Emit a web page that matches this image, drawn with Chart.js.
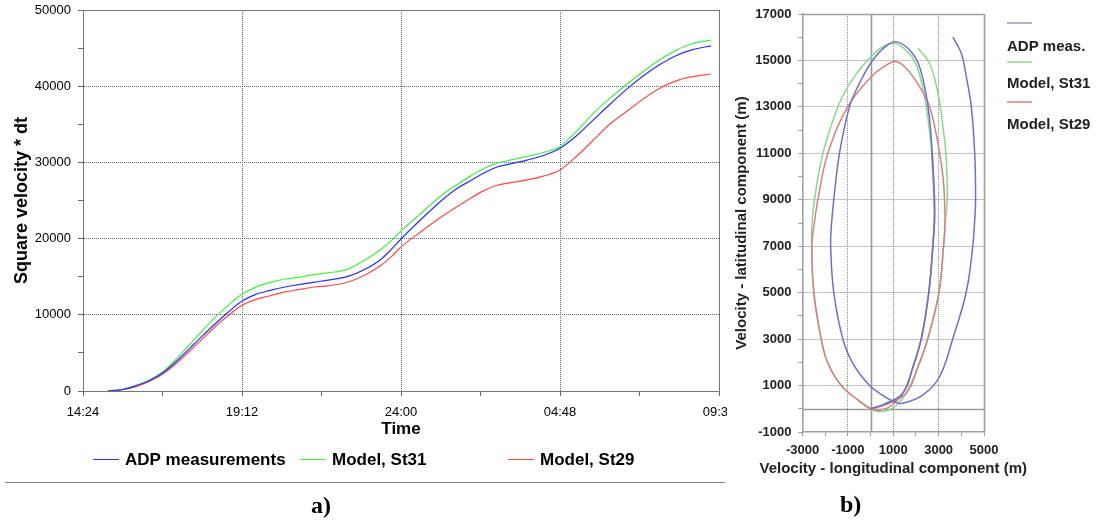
<!DOCTYPE html>
<html><head><meta charset="utf-8">
<script src="https://cdn.jsdelivr.net/npm/chart.js@4.4.1/dist/chart.umd.min.js"></script>
<style>
html,body{margin:0;padding:0;background:#fff;width:1100px;height:521px;overflow:hidden;position:relative;}
#wrapA{position:absolute;left:0;top:0;width:727px;height:521px;}
#wrapB{position:absolute;left:730px;top:0;width:370px;height:521px;}
.sep{position:absolute;left:5px;top:482px;width:720px;height:0;border-top:1px solid #808080;}
.panel{position:absolute;font-family:"Liberation Serif","Times New Roman",serif;font-weight:bold;font-size:24px;line-height:24px;color:#000;}
</style></head><body>
<div id="wrapA"><canvas id="chartA" width="727" height="521"></canvas></div>
<div id="wrapB"><canvas id="chartB" width="370" height="521"></canvas></div>
<div class="sep"></div>
<div class="panel" style="left:311px;top:493px;">a)</div>
<div class="panel" style="left:840px;top:492px;">b)</div>
<script>
const FONT = '"Liberation Sans", Arial, Helvetica, sans-serif';
Chart.defaults.font.family = FONT;
Chart.defaults.color = '#000';

// ---------- Panel a) : cumulative square velocity ----------
const timeHours = [0.75, 1.2, 1.6, 2.0, 2.4, 2.8, 3.2, 3.6, 4.0, 4.4, 4.8, 5.2, 5.65, 6.1, 6.5, 7.0, 7.4, 8.0, 8.5, 9.0, 9.3, 9.6, 10.2, 10.8, 11.3, 11.7, 12.1, 12.5, 13.0, 13.4, 13.9, 14.4, 14.9, 15.4, 15.9, 16.4, 16.9, 17.4, 17.9, 18.4, 18.96];
const adpSq  = [0, 200, 700, 1350, 2350, 3800, 5500, 7200, 8850, 10400, 11800, 12650, 13200, 13650, 13950, 14300, 14550, 15050, 15950, 17300, 18550, 19950, 22500, 24900, 26600, 27600, 28600, 29400, 29900, 30300, 30900, 31850, 33500, 35550, 37600, 39550, 41300, 42800, 44000, 44800, 45300];
const st31Sq = [0, 220, 720, 1450, 2500, 4100, 6000, 7900, 9700, 11300, 12700, 13600, 14250, 14700, 14900, 15300, 15500, 16000, 17150, 18600, 19700, 21000, 23300, 25600, 27100, 28200, 29200, 29900, 30400, 30800, 31300, 32100, 34100, 36400, 38400, 40200, 41900, 43450, 44700, 45600, 46050];
const st29Sq = [0, 180, 580, 1250, 2200, 3550, 5150, 6800, 8500, 9950, 11250, 12000, 12500, 13000, 13300, 13650, 13800, 14300, 15200, 16500, 17600, 18900, 20900, 22800, 24200, 25300, 26300, 27000, 27400, 27700, 28200, 29000, 30800, 32900, 35000, 36650, 38300, 39700, 40700, 41250, 41600];
const timeTickHours  = [0, 2.4, 4.8, 7.2, 9.6, 12, 14.4, 16.8, 19.2];
const timeTickLabels = ['14:24', '', '19:12', '', '24:00', '', '04:48', '', '09:36'];
const sqTicks      = [0, 5000, 10000, 15000, 20000, 25000, 30000, 35000, 40000, 45000, 50000];
const sqTickLabels = ['0', '', '10000', '', '20000', '', '30000', '', '40000', '', '50000'];

// ---------- Panel b) : progressive vector diagram ----------
const adpLon  = [0, 600, 1425, 1870, 2240, 2570, 2750, 2820, 2820, 2720, 2530, 2160, 1720, 1200, 800, 100, -560, -930, -1370, -1620, -1730, -1760, -1620, -1220, -780, -40, 620, 1060, 1425, 2310, 3040, 3630, 4220, 4510, 4590, 4630, 4590, 4440, 4220, 4000, 3630];
const adpLat  = [0, 200, 670, 1810, 3040, 5040, 7050, 8130, 9020, 11000, 13010, 14730, 15450, 15790, 15700, 15020, 13870, 13010, 11000, 9020, 7840, 7000, 5000, 3000, 1960, 1000, 520, 300, 235, 595, 1380, 3040, 5040, 7050, 8130, 9020, 11000, 13010, 14300, 15310, 16000];
const st31Lon = [0, 600, 1425, 1870, 2240, 2570, 2750, 2800, 2800, 2700, 2450, 2050, 1550, 900, -120, -1000, -1440, -2100, -2470, -2590, -2590, -2500, -2175, -1880, -1290, -560, 0, 310, 800, 1150, 1570, 2090, 2530, 3020, 3220, 3300, 3380, 3340, 3190, 2970, 2600, 2090];
const st31Lat = [0, 180, 670, 1810, 3040, 5040, 7050, 8130, 9020, 11000, 13010, 14730, 15450, 15740, 15020, 13870, 13010, 11000, 9020, 7840, 7000, 5000, 3000, 1960, 1000, 380, 20, -120, -50, 150, 670, 1810, 3040, 5040, 7050, 8130, 9020, 10720, 12150, 13590, 14880, 15530];
const st29Lon = [0, 600, 1570, 2090, 2530, 3020, 3220, 3280, 3260, 3190, 2970, 2600, 2160, 1570, 1100, 540, 30, -1000, -1880, -2320, -2500, -2590, -2500, -2175, -1880, -1290, -560, 0, 400, 900, 1425, 1870, 2240, 2570, 2750, 2820, 2800, 2700];
const st29Lat = [0, 150, 670, 1810, 3040, 5040, 7050, 7840, 9020, 10000, 11430, 13010, 13870, 14660, 14950, 14700, 14300, 13010, 11000, 9020, 7840, 7000, 5000, 3000, 1960, 1000, 380, 0, -60, 120, 670, 1810, 3040, 5040, 7050, 8130, 9020, 11000];
const lonTicks      = [-3000, -2000, -1000, 0, 1000, 2000, 3000, 4000, 5000];
const lonTickLabels = ['-3000', '', '-1000', '', '1000', '', '3000', '', '5000'];
const latTicks      = [-1000, 0, 1000, 2000, 3000, 4000, 5000, 6000, 7000, 8000, 9000, 10000, 11000, 12000, 13000, 14000, 15000, 16000, 17000];
const latTickLabels = ['-1000', '', '1000', '', '3000', '', '5000', '', '7000', '', '9000', '', '11000', '', '13000', '', '15000', '', '17000'];

const toXY = (xs, ys) => xs.map((v, i) => ({x: v, y: ys[i]}));
const CLEAR = 'rgba(0,0,0,0)';
const noPad = s => { s.paddingLeft = 0; s.paddingRight = 0; s.paddingTop = 0; s.paddingBottom = 0; };

// ---------- plugins ----------
function framePlugin(id, color, width) {
  return { id, afterDraw(chart) {
    const {ctx, chartArea: a} = chart;
    ctx.save(); ctx.strokeStyle = color; ctx.lineWidth = width;
    ctx.beginPath();
    ctx.moveTo(a.left, Math.round(a.top) + 0.5);
    ctx.lineTo(Math.round(a.right) + 0.5, Math.round(a.top) + 0.5);
    ctx.lineTo(Math.round(a.right) + 0.5, a.bottom);
    ctx.stroke(); ctx.restore();
  }};
}

const legendA = { id: 'legendA', afterDraw(chart) {
  const ctx = chart.ctx; const xs = [93, 300, 508]; const y = 459;
  ctx.save(); ctx.font = 'bold 17px ' + FONT; ctx.textBaseline = 'middle'; ctx.textAlign = 'left';
  chart.data.datasets.forEach((ds, i) => {
    ctx.strokeStyle = ds.borderColor; ctx.lineWidth = 1;
    ctx.beginPath(); ctx.moveTo(xs[i], y + 0.5); ctx.lineTo(xs[i] + 26, y + 0.5); ctx.stroke();
    ctx.fillStyle = '#000'; ctx.fillText(ds.label, xs[i] + 32, y + 1);
  });
  ctx.restore();
}};

const zeroLinesB = { id: 'zeroLinesB', beforeDatasetsDraw(chart) {
  const {ctx, chartArea: a, scales} = chart;
  const x0 = Math.round(scales.x.getPixelForValue(0)) + 0.5;
  const y0 = Math.round(scales.y.getPixelForValue(0)) + 0.5;
  ctx.save(); ctx.strokeStyle = '#9a9a9a'; ctx.lineWidth = 1.6;
  ctx.beginPath(); ctx.moveTo(x0, a.top); ctx.lineTo(x0, a.bottom);
  ctx.moveTo(a.left, y0); ctx.lineTo(a.right, y0); ctx.stroke(); ctx.restore();
}};

const xTitleB = { id: 'xTitleB', afterDraw(chart) {
  const {ctx, chartArea: a} = chart;
  ctx.save(); ctx.font = 'bold 15px ' + FONT; ctx.fillStyle = '#222';
  ctx.textAlign = 'center'; ctx.textBaseline = 'middle';
  ctx.fillText('Velocity - longitudinal component (m)', (a.left + a.right) / 2, 469);
  ctx.restore();
}};

const legendB = { id: 'legendB', afterDraw(chart) {
  const ctx = chart.ctx; const x = 277;
  const lineYs = [23, 62, 102]; const textYs = [47, 84, 125];
  const lineColors = ['#9c9cae', '#8ad88a', '#d88080'];
  ctx.save(); ctx.font = 'bold 15px ' + FONT; ctx.textBaseline = 'middle'; ctx.textAlign = 'left';
  chart.data.datasets.forEach((ds, i) => {
    ctx.strokeStyle = lineColors[i]; ctx.lineWidth = 1.5;
    ctx.beginPath(); ctx.moveTo(x, lineYs[i]); ctx.lineTo(x + 25, lineYs[i]); ctx.stroke();
    ctx.fillStyle = '#222'; ctx.fillText(ds.label, x, textYs[i]);
  });
  ctx.restore();
}};

// ---------- Chart a ----------
new Chart(document.getElementById('chartA'), {
  type: 'line',
  data: { datasets: [
    { label: 'ADP measurements', data: toXY(timeHours, adpSq), borderColor: '#2b2bff', borderWidth: 1.2, pointRadius: 0, cubicInterpolationMode: 'monotone', fill: false },
    { label: 'Model, St31', data: toXY(timeHours, st31Sq), borderColor: '#44ee44', borderWidth: 1.2, pointRadius: 0, cubicInterpolationMode: 'monotone', fill: false },
    { label: 'Model, St29', data: toXY(timeHours, st29Sq), borderColor: '#ff4a4a', borderWidth: 1.2, pointRadius: 0, cubicInterpolationMode: 'monotone', fill: false }
  ]},
  options: {
    responsive: false, animation: false, devicePixelRatio: 1,
    layout: { autoPadding: false, padding: { left: 0, top: 10, right: 8, bottom: 81 } },
    plugins: { legend: { display: false }, tooltip: { enabled: false } },
    scales: {
      x: {
        type: 'linear', min: 0, max: 19.2,
        afterBuildTicks: s => { s.ticks = timeTickHours.map(v => ({ value: v })); },
        afterFit: s => { s.height = 49; noPad(s); },
        ticks: { autoSkip: false, maxRotation: 0, padding: 9, font: { size: 13 }, color: '#000',
                 callback: (v, i) => timeTickLabels[i] },
        grid: { color: c => (c.index % 2 === 0 ? '#666' : CLEAR), tickColor: '#666', tickLength: 5, lineWidth: 1 },
        border: { color: '#777', width: 1, dash: [1, 1] },
        title: { display: true, text: 'Time', font: { size: 17, weight: 'bold' }, color: '#000', padding: { top: 0, bottom: 0 } }
      },
      y: {
        min: 0, max: 50000,
        afterBuildTicks: s => { s.ticks = sqTicks.map(v => ({ value: v })); },
        afterFit: s => { s.width = 83; noPad(s); },
        ticks: { autoSkip: false, padding: 7, font: { size: 13 }, color: '#000',
                 callback: (v, i) => sqTickLabels[i] },
        grid: { color: c => (c.index % 2 === 0 ? '#666' : CLEAR), tickColor: '#666', tickLength: 5, lineWidth: 1 },
        border: { color: '#777', width: 1, dash: [1, 1] },
        title: { display: true, text: 'Square velocity * dt', font: { size: 18, weight: 'bold' }, color: '#000', padding: { top: 11, bottom: 0 } }
      }
    }
  },
  plugins: [framePlugin('frameA', '#777', 1), legendA]
});

// ---------- Chart b ----------
const dottedIdx = (labels, n) => c => (labels[c.index] !== '' && c.index !== 0 && c.index !== n - 1 ? '#8a8a8a' : CLEAR);
new Chart(document.getElementById('chartB'), {
  type: 'scatter',
  data: { datasets: [
    { label: 'ADP meas.', data: toXY(adpLon, adpLat), showLine: true, borderColor: '#6e6ed0', borderWidth: 1.5, pointRadius: 0, tension: 0.4, order: 1 },
    { label: 'Model, St31', data: toXY(st31Lon, st31Lat), showLine: true, borderColor: '#8ad88a', borderWidth: 1.5, pointRadius: 0, tension: 0.4, order: 3 },
    { label: 'Model, St29', data: toXY(st29Lon, st29Lat), showLine: true, borderColor: '#d88080', borderWidth: 1.5, pointRadius: 0, tension: 0.4, order: 2 }
  ]},
  options: {
    responsive: false, animation: false, devicePixelRatio: 1,
    layout: { autoPadding: false, padding: { left: 0, top: 14, right: 116, bottom: 43 } },
    plugins: { legend: { display: false }, tooltip: { enabled: false } },
    scales: {
      x: {
        type: 'linear', min: -3000, max: 5000,
        afterBuildTicks: s => { s.ticks = lonTicks.map(v => ({ value: v })); },
        afterFit: s => { s.height = 46; noPad(s); },
        ticks: { autoSkip: false, maxRotation: 0, padding: 7, font: { size: 13, weight: 'bold' }, color: '#222',
                 callback: (v, i) => lonTickLabels[i] },
        grid: { color: dottedIdx(lonTickLabels, lonTicks.length), tickColor: '#999', tickLength: 4, lineWidth: 1 },
        border: { color: '#a0a0a0', width: 1.6, dash: [1, 1] },
        title: { display: false }
      },
      y: {
        type: 'linear', min: -1000, max: 17000,
        afterBuildTicks: s => { s.ticks = latTicks.map(v => ({ value: v })); },
        afterFit: s => { s.width = 72.5; noPad(s); },
        ticks: { autoSkip: false, padding: 7, font: { size: 13, weight: 'bold' }, color: '#222',
                 callback: (v, i) => latTickLabels[i] },
        grid: { color: dottedIdx(latTickLabels, latTicks.length), tickColor: '#999', tickLength: 4, lineWidth: 1 },
        border: { color: '#a0a0a0', width: 1.6, dash: [1, 1] },
        title: { display: true, text: 'Velocity - latitudinal component (m)', font: { size: 15, weight: 'bold' }, color: '#222', padding: { top: 3, bottom: 0 } }
      }
    }
  },
  plugins: [zeroLinesB, framePlugin('frameB', '#a0a0a0', 1.6), xTitleB, legendB]
});
</script>
</body></html>
